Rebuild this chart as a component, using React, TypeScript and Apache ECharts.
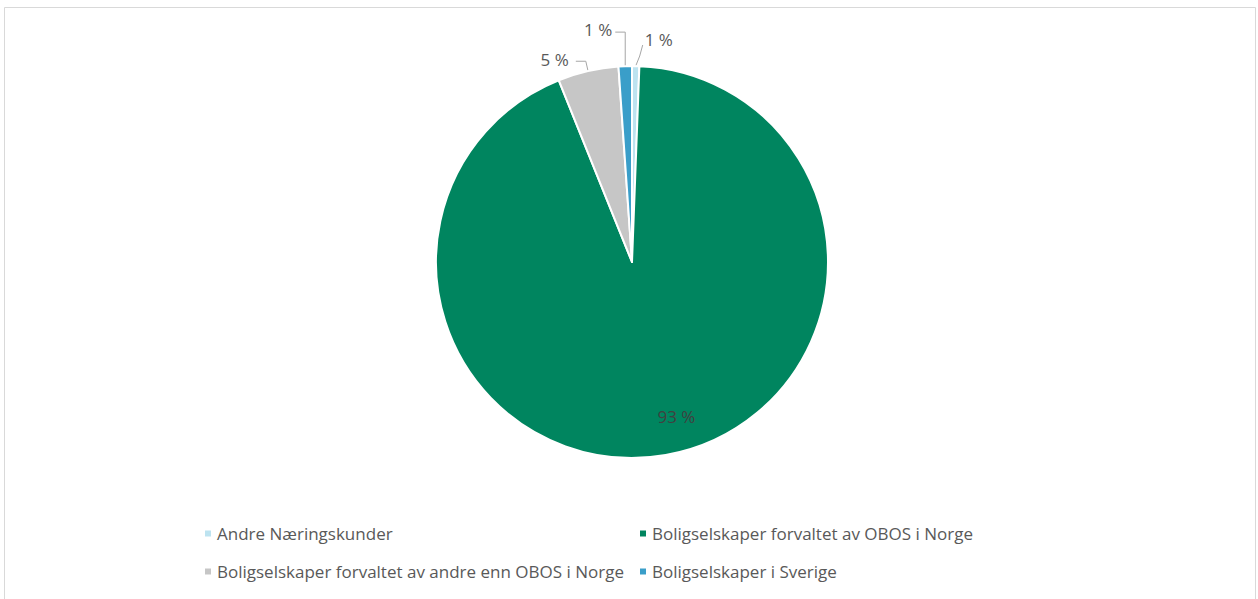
import React, { useEffect, useRef } from "react";
import * as echarts from "echarts";

const categories = [
  "Andre Næringskunder",
  "Boligselskaper forvaltet av OBOS i Norge",
  "Boligselskaper forvaltet av andre enn OBOS i Norge",
  "Boligselskaper i Sverige",
];
const values = [0.6, 93.3, 5.0, 1.1];
const labels = ["1 %", "93 %", "5 %", "1 %"];
const colors = ["#bde3f0", "#00855f", "#c6c6c6", "#3a9ec9"];

const FONT = "'Open Sans', sans-serif";
const FS = 17;

export default function App() {
  const ref = useRef<HTMLDivElement>(null);
  useEffect(() => {
    document.body.style.margin = "0";
    const chart = echarts.init(ref.current!, undefined, { renderer: "svg" });
    const legendText = { color: "#595959", fontSize: FS, fontFamily: FONT, lineHeight: 17 };
    chart.setOption({
      animation: false,
      backgroundColor: "#ffffff",
      graphic: [
        {
          type: "rect",
          shape: { x: 4.5, y: 7.5, width: 1251, height: 600 },
          style: { fill: "none", stroke: "#d9d9d9", lineWidth: 1 },
          silent: true,
        },
      ],
      legend: [
        {
          left: 198,
          top: 520,
          orient: "vertical",
          itemGap: 21,
          itemWidth: 8,
          itemHeight: 8,
          icon: "rect",
          textStyle: legendText,
          data: [categories[0], categories[2]],
        },
        {
          left: 633,
          top: 520,
          orient: "vertical",
          itemGap: 21,
          itemWidth: 8,
          itemHeight: 8,
          icon: "rect",
          textStyle: legendText,
          data: [categories[1], categories[3]],
        },
      ],
      series: [
        {
          type: "pie",
          center: [632, 262],
          radius: [0, 196],
          startAngle: 90,
          clockwise: true,
          avoidLabelOverlap: false,
          itemStyle: { borderColor: "#ffffff", borderWidth: 2 },
          label: {
            show: true,
            color: "#595959",
            fontSize: FS,
            fontFamily: FONT,
            formatter: (p: any) => labels[p.dataIndex],
          },
          labelLine: {
            show: true,
            length: 10,
            length2: 10,
            lineStyle: { color: "#a6a6a6", width: 1 },
          },
          labelLayout: (p: any) => {
            const pts = p.labelLinePoints;
            if (!pts) return {};
            const p0 = pts[0];
            if (p.dataIndex === 3) {
              return {
                x: p0[0] - 13,
                y: p0[1] - 37,
                align: "right",
                verticalAlign: "middle",
                labelLinePoints: [p0, [p0[0], p0[1] - 34], [p0[0] - 10, p0[1] - 34]],
              };
            }
            if (p.dataIndex === 0) {
              return {
                x: p0[0] + 9,
                y: p0[1] - 27,
                align: "left",
                verticalAlign: "middle",
                labelLinePoints: [p0, [p0[0] + 4, p0[1] - 10], [p0[0] + 7, p0[1] - 21]],
              };
            }
            if (p.dataIndex === 2) {
              return { dy: -2, dx: -2 };
            }
            return {};
          },
          data: categories.map((name, i) => ({
            name,
            value: values[i],
            itemStyle: { color: colors[i] },
            ...(i === 1
              ? {
                  label: { position: "inside", color: "#404040", offset: [27, 55] },
                  labelLine: { show: false },
                }
              : {}),
          })),
        },
      ],
    });
    return () => chart.dispose();
  }, []);
  return <div ref={ref} style={{ width: 1258, height: 599 }} />;
}
